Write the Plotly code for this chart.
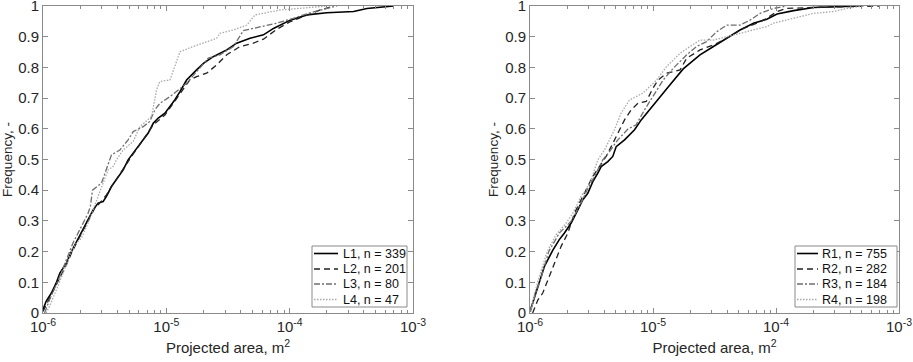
import plotly.graph_objects as go

# Projected area values in mm^2 (1 mm^2 = 1e-6 m^2), cumulative frequency
L1_area = [1.00, 1.06, 1.17, 1.28, 1.37, 1.55, 1.70, 1.81, 1.99, 2.18, 2.32, 2.55, 2.80, 3.07, 3.27, 3.59, 3.94,
           4.47, 4.90, 5.39, 5.91, 6.49, 7.13, 7.83, 8.60, 9.74, 10.7, 11.7, 12.9, 14.6, 17.6, 20.0, 24.0, 30.9,
           37.2, 47.7, 61.3, 73.9, 101, 138, 200, 330, 423, 697]
L1_freq = [0.011, 0.038, 0.065, 0.098, 0.13, 0.163, 0.20, 0.222, 0.255, 0.282, 0.304, 0.336, 0.358, 0.363, 0.38,
           0.412, 0.434, 0.466, 0.499, 0.521, 0.542, 0.564, 0.586, 0.618, 0.635, 0.651, 0.672, 0.694, 0.721, 0.759,
           0.792, 0.813, 0.835, 0.857, 0.879, 0.895, 0.906, 0.927, 0.954, 0.971, 0.978, 0.982, 0.992, 1.0]

L2_area = [1.00, 1.13, 1.28, 1.55, 1.70, 1.99, 2.32, 2.63, 2.89, 3.27, 3.59, 4.07, 4.75, 5.39, 6.49, 7.83, 9.74,
           11.4, 13.3, 15.5, 17.6, 21.2, 25.6, 30.9, 39.6, 50.8, 61.3, 78.6, 101, 138, 177, 227]
L2_freq = [0.005, 0.049, 0.092, 0.157, 0.195, 0.249, 0.298, 0.342, 0.358, 0.385, 0.412, 0.445, 0.488, 0.518, 0.564,
           0.613, 0.645, 0.683, 0.721, 0.759, 0.770, 0.781, 0.808, 0.841, 0.868, 0.879, 0.892, 0.924, 0.949, 0.971,
           0.987, 1.0]

L3_area = [1.03, 1.13, 1.37, 1.75, 2.05, 2.32, 2.42, 2.52, 2.98, 3.37, 3.59, 4.20, 4.90, 5.39, 6.49, 7.35, 8.08,
           8.87, 10.7, 14.6, 17.6, 21.9, 27.2, 35.0, 42.1, 57.6, 78.6, 107, 147, 241]
L3_freq = [0.0, 0.043, 0.119, 0.228, 0.282, 0.325, 0.347, 0.40, 0.423, 0.488, 0.515, 0.531, 0.564, 0.591, 0.607,
           0.624, 0.662, 0.683, 0.705, 0.748, 0.786, 0.830, 0.841, 0.868, 0.920, 0.933, 0.944, 0.960, 0.978, 1.0]

L4_area = [1.06, 1.13, 1.32, 1.50, 1.70, 1.87, 2.05, 2.32, 2.55, 2.80, 3.17, 3.37, 3.70, 3.94, 4.47, 5.39, 6.10,
           7.59, 8.33, 8.87, 10.7, 11.7, 12.9, 16.5, 21.2, 25.6, 27.2, 35.0, 44.9, 52.4, 83.7, 200]
L4_freq = [0.0, 0.022, 0.087, 0.141, 0.200, 0.228, 0.244, 0.293, 0.336, 0.380, 0.434, 0.466, 0.477, 0.499, 0.531,
           0.559, 0.607, 0.640, 0.727, 0.754, 0.759, 0.803, 0.851, 0.868, 0.884, 0.895, 0.911, 0.922, 0.938, 0.971,
           0.987, 1.0]

R1_area = [1.00, 1.16, 1.31, 1.53, 1.73, 1.90, 2.16, 2.45, 2.69, 2.95, 3.24, 3.56, 3.79, 4.29, 4.71, 5.02, 5.87,
           7.08, 8.02, 9.38, 11.4, 13.7, 17.6, 24.1, 31.0, 39.8, 51.0, 65.6, 84.2, 102, 139, 202, 294, 485]
R1_freq = [0.005, 0.087, 0.152, 0.204, 0.239, 0.260, 0.293, 0.336, 0.369, 0.390, 0.428, 0.456, 0.477, 0.493, 0.510,
           0.542, 0.564, 0.597, 0.629, 0.662, 0.705, 0.743, 0.795, 0.841, 0.868, 0.895, 0.922, 0.944, 0.957, 0.974,
           0.985, 0.995, 0.998, 1.0]

R2_area = [1.05, 1.16, 1.27, 1.44, 1.63, 1.79, 2.03, 2.30, 2.52, 2.86, 3.24, 3.67, 4.16, 4.57, 5.18, 5.87, 6.65,
           7.53, 8.81, 9.98, 11.0, 12.9, 16.6, 18.8, 24.1, 31.0, 39.8, 54.3, 69.8, 84.2, 102, 122, 227, 701]
R2_freq = [0.0, 0.043, 0.065, 0.119, 0.174, 0.217, 0.260, 0.325, 0.358, 0.401, 0.445, 0.477, 0.510, 0.542, 0.586,
           0.629, 0.662, 0.683, 0.689, 0.732, 0.759, 0.781, 0.792, 0.830, 0.857, 0.873, 0.895, 0.927, 0.944, 0.960,
           0.982, 0.992, 0.996, 1.0]

R3_area = [1.00, 1.09, 1.23, 1.42, 1.73, 2.16, 2.52, 2.90, 3.34, 3.91, 4.43, 5.18, 6.25, 7.30, 8.54, 9.98, 12.1,
           14.6, 18.8, 22.6, 27.3, 32.9, 39.8, 51.0, 61.5, 74.3, 95.4, 122]
R3_freq = [0.005, 0.054, 0.114, 0.200, 0.260, 0.299, 0.347, 0.399, 0.445, 0.499, 0.526, 0.564, 0.599, 0.613, 0.662,
           0.705, 0.759, 0.797, 0.841, 0.868, 0.884, 0.916, 0.938, 0.938, 0.954, 0.976, 0.992, 1.0]

R4_area = [1.02, 1.09, 1.19, 1.38, 1.63, 1.97, 2.23, 2.60, 2.82, 3.14, 3.56, 4.03, 4.43, 4.86, 5.51, 6.44, 8.27,
           10.7, 12.9, 16.6, 20.0, 24.1, 31.0, 39.8, 51.0, 65.6, 84.2, 95.4, 139, 202, 294, 377, 513]
R4_freq = [0.005, 0.065, 0.119, 0.200, 0.255, 0.293, 0.325, 0.380, 0.399, 0.434, 0.499, 0.531, 0.564, 0.597, 0.651,
           0.694, 0.716, 0.759, 0.803, 0.846, 0.868, 0.889, 0.889, 0.900, 0.911, 0.922, 0.933, 0.944, 0.960, 0.976,
           0.982, 0.992, 1.0]

left_names = ["L1, n = 339", "L2, n = 201", "L3, n = 80", "L4, n = 47"]
right_names = ["R1, n = 755", "R2, n = 282", "R3, n = 184", "R4, n = 198"]
x_tick_vals = [1e-6, 1e-5, 1e-4, 1e-3]
x_tick_text = ["10<sup>-6</sup>", "10<sup>-5</sup>", "10<sup>-4</sup>", "10<sup>-3</sup>"]
y_tick_vals = [0, 0.1, 0.2, 0.3, 0.4, 0.5, 0.6, 0.7, 0.8, 0.9, 1]
y_tick_text = ["0", "0.1", "0.2", "0.3", "0.4", "0.5", "0.6", "0.7", "0.8", "0.9", "1"]

MM2 = 1e-6
styles = [
    dict(color="#000000", width=1.6, dash="solid"),
    dict(color="#222222", width=1.3, dash="6px,4px"),
    dict(color="#6e6e6e", width=1.3, dash="6px,2px,2px,2px"),
    dict(color="#a8a8a8", width=1.3, dash="1.5px,1.5px"),
]

W, H = 913, 362
fig = go.Figure()
left = [(L1_area, L1_freq), (L2_area, L2_freq), (L3_area, L3_freq), (L4_area, L4_freq)]
right = [(R1_area, R1_freq), (R2_area, R2_freq), (R3_area, R3_freq), (R4_area, R4_freq)]
for (a, f), name, st in zip(left, left_names, styles):
    fig.add_trace(go.Scatter(x=[v * MM2 for v in a], y=f, mode="lines", name=name, line=st,
                             xaxis="x", yaxis="y", showlegend=False))
for (a, f), name, st in zip(right, right_names, styles):
    fig.add_trace(go.Scatter(x=[v * MM2 for v in a], y=f, mode="lines", name=name, line=st,
                             xaxis="x2", yaxis="y2", showlegend=False))

ydom = [(H - 313) / H, (H - 6) / H]
minor_vals = [k * 10 ** e for e in (-6, -5, -4) for k in range(2, 10)]
font_fam = "Liberation Sans, Arial, sans-serif"
axcol = "#8a8a8a"
txtcol = "#262626"


def xaxis(dom, anchor):
    return dict(type="log", range=[-6, -3], domain=dom, anchor=anchor, automargin=False,
                tickmode="array", tickvals=x_tick_vals, ticktext=x_tick_text, ticklabeloverflow="allow",
                ticks="inside", ticklen=5, tickcolor=axcol, showline=True, linecolor=axcol, linewidth=1,
                mirror="allticks", showgrid=False, zeroline=False,
                minor=dict(ticks="inside", ticklen=3, tickcolor=axcol, tickmode="array", tickvals=minor_vals,
                           showgrid=False),
                tickfont=dict(size=15, color=txtcol, family=font_fam),
                title=dict(text="Projected area, m<sup>2</sup>", font=dict(size=15, color=txtcol, family=font_fam),
                           standoff=8))


def yaxis(anchor):
    return dict(range=[0, 1], domain=ydom, anchor=anchor, automargin=False,
                tickmode="array", tickvals=y_tick_vals, ticktext=y_tick_text, ticklabeloverflow="allow",
                ticks="inside", ticklen=5, tickcolor=axcol, showline=True, linecolor=axcol, linewidth=1,
                mirror="allticks", showgrid=False, zeroline=False,
                tickfont=dict(size=15, color=txtcol, family=font_fam),
                title=dict(text="Frequency, -", font=dict(size=13.5, color=txtcol, family=font_fam), standoff=3))


# Manual legends (box, line samples, labels) in paper coordinates
shapes = []
annotations = []
legend_specs = [
    (left_names, 312, 407, 314, 338, 341),
    (right_names, 795, 897, 797, 818, 820),
]
row_y = [253.5, 269, 284, 299.5]
for names, bx0, bx1, lx0, lx1, tx in legend_specs:
    shapes.append(dict(type="rect", xref="paper", yref="paper", x0=bx0 / W, x1=bx1 / W,
                       y0=(H - 307) / H, y1=(H - 246) / H, line=dict(color=axcol, width=1),
                       fillcolor="white", layer="above"))
    for name, st, ry in zip(names, styles, row_y):
        shapes.append(dict(type="line", xref="paper", yref="paper", x0=lx0 / W, x1=lx1 / W,
                           y0=(H - ry) / H, y1=(H - ry) / H, line=st, layer="above"))
        annotations.append(dict(text=name, xref="paper", yref="paper", x=tx / W, y=(H - ry) / H,
                                xanchor="left", yanchor="middle", showarrow=False,
                                font=dict(size=12.5, color="#111111", family=font_fam)))

fig.update_layout(
    width=W, height=H, margin=dict(l=0, r=0, t=0, b=0),
    paper_bgcolor="white", plot_bgcolor="white",
    xaxis=xaxis([43 / W, 413 / W], "y"),
    yaxis=yaxis("x"),
    xaxis2=xaxis([530 / W, 899 / W], "y2"),
    yaxis2=yaxis("x2"),
    shapes=shapes, annotations=annotations,
    showlegend=False,
)

fig.write_html("out.html", config={"displayModeBar": False},
               post_script="document.body.style.margin='0';document.body.style.overflow='hidden';")
